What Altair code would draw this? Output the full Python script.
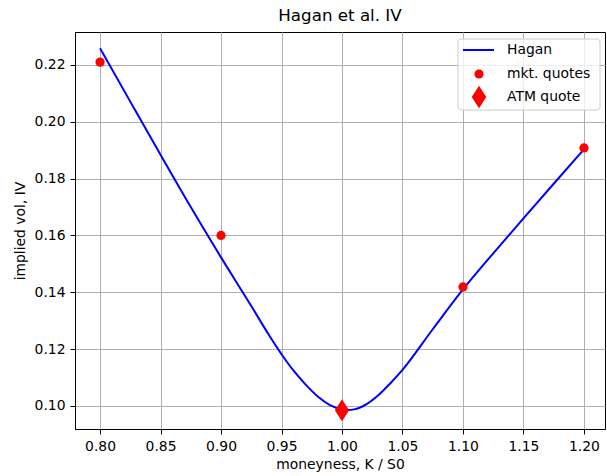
import altair as alt
import pandas as pd

# Hagan model curve
hagan_k = [0.800, 0.825, 0.850, 0.875, 0.900, 0.925, 0.940, 0.950, 0.960, 0.970,
           0.980, 0.990, 1.000, 1.005, 1.010, 1.020, 1.030, 1.040, 1.050, 1.075,
           1.100, 1.125, 1.150, 1.175, 1.200]
hagan_iv = [0.2259, 0.2071, 0.1884, 0.1700, 0.1523, 0.1352, 0.1247, 0.1182, 0.1124, 0.1075,
            0.1033, 0.1003, 0.0988, 0.0986, 0.0988, 0.1006, 0.1038, 0.1080, 0.1127, 0.1270,
            0.1410, 0.1537, 0.1660, 0.1782, 0.1903]

# market quotes
mkt_k = [0.8, 0.9, 1.1, 1.2]
mkt_iv = [0.2210, 0.1600, 0.1419, 0.1908]

# ATM quote
atm_k = [1.0]
atm_iv = [0.0985]

x_ticks = [0.80, 0.85, 0.90, 0.95, 1.00, 1.05, 1.10, 1.15, 1.20]
y_ticks = [0.10, 0.12, 0.14, 0.16, 0.18, 0.20, 0.22]
legend_labels = ["Hagan", "mkt. quotes", "ATM quote"]

X_DOM = [0.7793, 1.2174]
Y_DOM = [0.0919, 0.2316]
FONT = "DejaVu Sans"
FS = 13.9

hagan_df = pd.DataFrame({"k": hagan_k, "iv": hagan_iv})
mkt_df = pd.DataFrame({"k": mkt_k, "iv": mkt_iv})
atm_df = pd.DataFrame({"k": atm_k, "iv": atm_iv})

x_enc = alt.X("k:Q", scale=alt.Scale(domain=X_DOM, nice=False, zero=False),
              axis=alt.Axis(values=x_ticks, format=".2f", title="moneyness, K / S0"))
y_enc = alt.Y("iv:Q", scale=alt.Scale(domain=Y_DOM, nice=False, zero=False),
              axis=alt.Axis(values=y_ticks, format=".2f", title="implied vol, IV",
                            titlePadding=7))

line = alt.Chart(hagan_df).mark_line(color="blue", strokeWidth=2,
                                     interpolate="monotone", clip=True).encode(x=x_enc, y=y_enc)
mkt = alt.Chart(mkt_df).mark_point(shape="circle", filled=True, color="red",
                                   size=85, opacity=1).encode(x=x_enc, y=y_enc)
DIAMOND = "M0,-1L0.65,0L0,1L-0.65,0Z"
atm = alt.Chart(atm_df).mark_point(shape=DIAMOND, filled=True, color="red",
                                   size=484, opacity=1).encode(x=x_enc, y=y_enc)

# legend (drawn manually)
one = pd.DataFrame({"label": [""]})
leg_box = alt.Chart(one).mark_rect(fill="white", fillOpacity=0.8, stroke="#cccccc",
                                   strokeWidth=1, cornerRadius=3).encode(
    x=alt.value(383), x2=alt.value(525), y=alt.value(7), y2=alt.value(78))
leg_line = alt.Chart(one).mark_rule(color="blue", strokeWidth=2).encode(
    x=alt.value(388), x2=alt.value(419), y=alt.value(18))
leg_circ = alt.Chart(one).mark_point(shape="circle", filled=True, color="red",
                                     size=85, opacity=1).encode(
    x=alt.value(404), y=alt.value(42))
leg_dia = alt.Chart(one).mark_point(shape=DIAMOND, filled=True, color="red",
                                    size=500, opacity=1).encode(
    x=alt.value(404), y=alt.value(65))
leg_texts = []
for lab, yy in zip(legend_labels, [18, 42, 65]):
    leg_texts.append(
        alt.Chart(pd.DataFrame({"label": [lab]})).mark_text(
            align="left", baseline="middle", font=FONT, fontSize=FS, color="black").encode(
            text="label:N", x=alt.value(432), y=alt.value(yy)))

chart = alt.layer(line, mkt, atm, leg_box, leg_line, leg_circ, leg_dia, *leg_texts).properties(
    width=530, height=397,
    background="white",
    title=alt.TitleParams("Hagan et al. IV", font=FONT, fontSize=16.7, fontWeight="normal",
                          anchor="middle", offset=7, color="black"),
    padding={"left": 75, "top": 32, "right": 2, "bottom": 47},
    autosize=alt.AutoSizeParams(type="none"),
).configure_view(stroke="black", strokeWidth=1).configure_axis(
    labelFont=FONT, labelFontSize=FS, labelColor="black",
    titleFont=FONT, titleFontSize=FS, titleFontWeight="normal", titleColor="black",
    domainColor="black", tickColor="black", tickSize=5, labelPadding=5,
    gridColor="#b0b0b0", gridWidth=1, gridOpacity=1, titlePadding=5,
)

chart.save("out.html", embed_options={"renderer": "svg", "actions": False})
